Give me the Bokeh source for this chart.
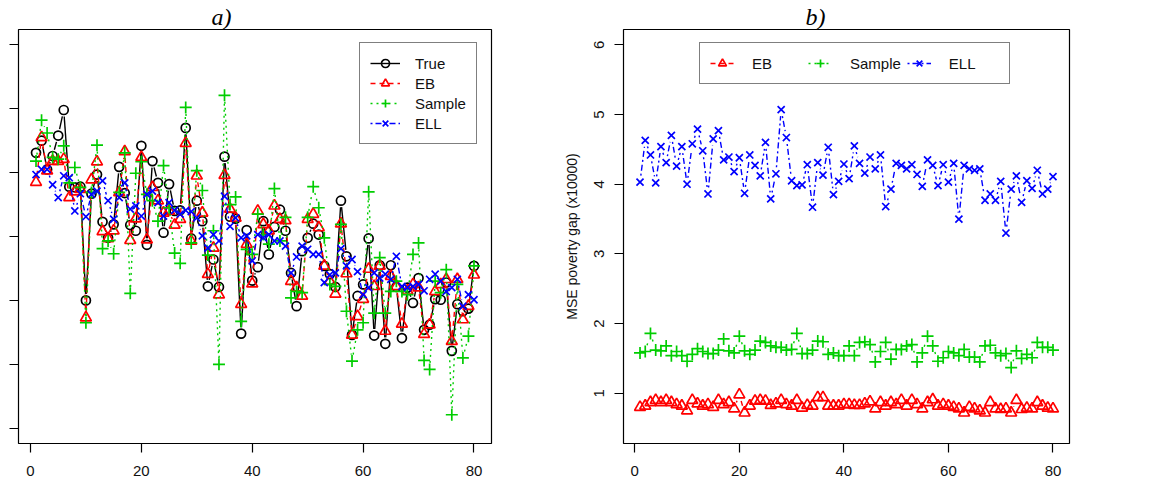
from bokeh.plotting import figure
from bokeh.models import FixedTicker, Legend, LegendItem, Range1d, Title
from bokeh.layouts import row
from bokeh.embed import file_html
from bokeh.resources import INLINE
import math

# ---------------- data ----------------
area = list(range(1, 81))

# panel a) estimates (axis units, labels not visible in the reference)
true_a = [4.31, 4.50, 4.05, 4.26, 4.58, 4.98, 3.78, 3.77, 3.78, 2.00,
          3.67, 3.97, 3.23, 2.98, 3.19, 4.09, 3.68, 3.18, 3.09, 4.42,
          2.87, 4.18, 3.84, 3.06, 3.82, 3.40, 3.41, 4.70, 2.97, 3.56,
          3.24, 2.22, 2.64, 2.21, 4.25, 3.31, 3.28, 1.48, 3.10, 2.31,
          2.52, 3.24, 2.72, 3.15, 3.42, 3.09, 2.43, 1.91, 2.77, 2.98,
          3.20, 3.03, 2.54, 2.41, 2.21, 3.56, 2.69, 1.46, 2.07, 2.25,
          2.97, 1.45, 2.55, 1.32, 2.55, 2.21, 1.41, 2.20, 1.96, 2.35,
          1.54, 1.62, 2.02, 2.01, 2.28, 1.21, 1.94, 1.83, 1.87, 2.54]
eb_a = [3.85, 4.55, 4.03, 4.18, 4.18, 4.21, 3.61, 3.70, 3.74, 1.73,
        3.89, 4.17, 3.08, 2.97, 3.09, 3.69, 4.33, 2.94, 3.28, 4.24,
        2.95, 3.77, 3.56, 3.37, 3.40, 3.18, 3.27, 4.46, 2.93, 3.95,
        3.37, 2.41, 2.82, 2.09, 3.96, 3.43, 3.29, 1.94, 2.88, 2.26,
        3.40, 3.19, 3.09, 3.48, 3.27, 3.25, 2.30, 2.20, 2.07, 3.27,
        3.35, 3.14, 2.54, 2.30, 2.10, 3.20, 2.42, 1.46, 1.75, 2.02,
        2.49, 2.22, 2.54, 1.52, 2.38, 2.22, 1.63, 2.15, 2.25, 2.20,
        1.47, 1.62, 2.14, 2.25, 2.33, 1.36, 2.33, 1.70, 1.91, 2.40]
sample_a = [4.18, 4.82, 4.62, 4.24, 4.21, 4.42, 3.84, 4.08, 3.77, 1.65,
            3.69, 4.43, 2.81, 2.93, 2.73, 3.69, 4.31, 2.11, 3.99, 4.17,
            3.66, 3.56, 3.24, 4.11, 3.45, 2.74, 2.58, 5.02, 2.90, 4.03,
            3.72, 2.71, 3.09, 1.00, 5.21, 3.50, 3.62, 1.67, 2.80, 2.72,
            3.35, 3.03, 2.88, 3.75, 2.93, 3.30, 2.04, 2.14, 2.12, 3.30,
            3.78, 3.45, 2.98, 2.25, 2.22, 3.19, 1.83, 1.05, 1.54, 1.65,
            3.70, 1.80, 2.67, 1.80, 2.14, 2.30, 2.14, 2.09, 2.72, 2.90,
            1.06, 0.92, 2.30, 2.12, 2.48, 0.21, 2.25, 1.10, 1.44, 2.54]
ell_a = [3.97, 4.05, 4.05, 3.81, 3.61, 3.95, 3.92, 3.40, 3.67, 3.31,
         3.66, 3.71, 3.87, 3.56, 3.27, 3.61, 3.84, 3.43, 3.48, 3.32,
         3.66, 3.71, 3.53, 3.32, 3.53, 3.41, 3.35, 3.41, 3.39, 3.29,
         3.01, 2.82, 3.03, 2.93, 3.63, 3.16, 3.29, 2.98, 3.01, 2.62,
         3.03, 2.98, 3.03, 2.93, 2.93, 2.85, 2.43, 2.68, 2.85, 2.80,
         2.72, 2.72, 2.28, 2.40, 2.43, 2.81, 2.54, 2.64, 2.45, 2.09,
         2.20, 2.43, 2.35, 2.41, 2.33, 2.69, 2.22, 2.20, 2.22, 2.25,
         2.15, 2.33, 2.41, 2.30, 2.14, 2.20, 2.33, 1.91, 2.09, 2.01]

# panel b) MSE poverty gap (x10000)
eb_b = [0.80, 0.82, 0.87, 0.90, 0.87, 0.90, 0.87, 0.84, 0.82, 0.75,
        0.90, 0.85, 0.82, 0.84, 0.80, 0.90, 0.84, 0.87, 0.78, 0.98,
        0.72, 0.82, 0.89, 0.90, 0.89, 0.83, 0.85, 0.90, 0.84, 0.82,
        0.90, 0.79, 0.83, 0.82, 0.94, 0.94, 0.82, 0.82, 0.82, 0.84,
        0.84, 0.83, 0.83, 0.85, 0.88, 0.78, 0.87, 0.82, 0.87, 0.84,
        0.90, 0.82, 0.90, 0.84, 0.78, 0.87, 0.91, 0.82, 0.84, 0.82,
        0.80, 0.78, 0.72, 0.80, 0.78, 0.75, 0.72, 0.87, 0.78, 0.77,
        0.78, 0.72, 0.90, 0.77, 0.79, 0.78, 0.87, 0.82, 0.79, 0.78]
sample_b = [1.58, 1.60, 1.86, 1.62, 1.61, 1.68, 1.54, 1.60, 1.54, 1.46,
            1.56, 1.64, 1.60, 1.57, 1.57, 1.62, 1.78, 1.61, 1.58, 1.82,
            1.61, 1.56, 1.62, 1.75, 1.73, 1.68, 1.66, 1.66, 1.62, 1.63,
            1.86, 1.57, 1.57, 1.62, 1.75, 1.74, 1.56, 1.58, 1.54, 1.54,
            1.68, 1.54, 1.73, 1.74, 1.70, 1.45, 1.60, 1.73, 1.49, 1.63,
            1.63, 1.68, 1.70, 1.45, 1.58, 1.82, 1.68, 1.46, 1.51, 1.60,
            1.58, 1.54, 1.63, 1.52, 1.52, 1.45, 1.68, 1.69, 1.58, 1.54,
            1.57, 1.37, 1.61, 1.50, 1.56, 1.51, 1.73, 1.66, 1.66, 1.62]
ell_b = [4.03, 4.63, 4.42, 4.02, 4.54, 4.31, 4.70, 4.26, 4.54, 4.00,
         4.58, 4.79, 4.48, 3.86, 4.65, 4.77, 4.35, 4.39, 4.18, 4.38,
         3.87, 4.42, 4.27, 4.12, 4.60, 3.79, 4.15, 5.07, 4.67, 4.05,
         3.98, 3.99, 4.28, 3.67, 4.31, 4.13, 4.53, 3.85, 4.04, 4.29,
         4.08, 4.55, 4.30, 4.16, 4.39, 4.22, 4.42, 3.68, 3.93, 4.30,
         4.27, 4.22, 4.28, 4.14, 3.97, 4.35, 4.27, 3.98, 4.28, 4.03,
         4.30, 3.50, 4.27, 4.22, 4.20, 4.22, 3.77, 3.86, 3.77, 4.04,
         3.30, 3.93, 4.12, 3.74, 4.05, 3.94, 4.20, 3.86, 3.93, 4.11]

x_ticks = [0, 20, 40, 60, 80]
y_ticks_a = [0, 1, 2, 3, 4, 5, 6]
y_ticks_b = [1, 2, 3, 4, 5, 6]

# ---------------- style ----------------
FONT = "Liberation Sans"
BLACK, RED, GREEN, BLUE = "#000000", "#FF0000", "#00CD00", "#0000FF"
H = 486
TOP, BOTTOM = 29, 43
XR = (-2.16, 83.16)
GAP = 6.5  # px gap around points, like R's type = "b"


def base_fig(width, left, right, yr):
    p = figure(width=width, height=H, x_range=Range1d(*XR),
               y_range=Range1d(*yr), output_backend="svg", toolbar_location=None,
               min_border_left=left, min_border_right=right,
               min_border_top=TOP, min_border_bottom=BOTTOM)
    p.xgrid.visible = False
    p.ygrid.visible = False
    p.background_fill_color = "white"
    p.border_fill_color = "white"
    p.outline_line_color = BLACK
    p.outline_line_width = 1.2
    p.outline_line_alpha = 1
    for ax in (p.xaxis[0], p.yaxis[0]):
        ax.axis_line_color = None
        ax.major_tick_in = 0
        ax.major_tick_out = 9
        ax.major_tick_line_color = BLACK
        ax.major_tick_line_width = 1.2
        ax.minor_tick_line_color = None
        ax.major_label_text_font = FONT
        ax.major_label_text_font_size = "15px"
        ax.major_label_text_color = "#111111"
    p.xaxis.ticker = FixedTicker(ticks=x_ticks)
    p.xaxis.major_label_standoff = 13
    return p


def add_title(p, text, offset):
    p.add_layout(Title(text=text, align="left", offset=offset, standoff=0,
                       text_font="Liberation Serif", text_font_style="italic",
                       text_font_size="24px", text_color=BLACK), "above")


def gapped(x, y, xpx, ypx):
    """segments between consecutive points, shortened near each point (R type='b')"""
    x0, y0, x1, y1 = [], [], [], []
    for i in range(len(x) - 1):
        dx = (x[i + 1] - x[i]) * xpx
        dy = (y[i + 1] - y[i]) * ypx
        d = math.hypot(dx, dy)
        if d <= 2 * GAP:
            continue
        f = GAP / d
        x0.append(x[i] + (x[i + 1] - x[i]) * f)
        y0.append(y[i] + (y[i + 1] - y[i]) * f)
        x1.append(x[i + 1] - (x[i + 1] - x[i]) * f)
        y1.append(y[i + 1] - (y[i + 1] - y[i]) * f)
    return x0, y0, x1, y1


def series(p, x, y, color, dash, marker, size, xpx, ypx):
    x0, y0, x1, y1 = gapped(x, y, xpx, ypx)
    ln = p.segment(x0, y0, x1, y1, line_color=color, line_width=1.4, line_dash=dash)
    sc = p.scatter(x, y, marker=marker, size=size, fill_color=None,
                   line_color=color, line_width=1.7)
    return [ln, sc]


# ---------------- panel a ----------------
YA = (-0.24, 6.24)
WA, LA, RA = 560, 18, 69
pa = base_fig(WA, LA, RA, YA)
pa.yaxis.ticker = FixedTicker(ticks=y_ticks_a)
pa.yaxis.major_label_overrides = {t: "" for t in y_ticks_a}
pa.yaxis.major_label_standoff = 0
xpx_a = (WA - LA - RA) / (XR[1] - XR[0])
ypx_a = (H - TOP - BOTTOM) / (YA[1] - YA[0])

r_true = series(pa, area, true_a, BLACK, "solid", "circle", 9, xpx_a, ypx_a)
r_eb = series(pa, area, eb_a, RED, "5 4", "triangle", 11, xpx_a, ypx_a)
r_sam = series(pa, area, sample_a, GREEN, "2 4", "cross", 12, xpx_a, ypx_a)
r_ell = series(pa, area, ell_a, BLUE, "2 3 6 3", "x", 10, xpx_a, ypx_a)

leg_a = Legend(items=[LegendItem(label="True", renderers=r_true),
                      LegendItem(label="EB", renderers=r_eb),
                      LegendItem(label="Sample", renderers=r_sam),
                      LegendItem(label="ELL", renderers=r_ell)],
               location=(341, 299), orientation="vertical",
               glyph_width=30, glyph_height=20, label_height=20,
               label_standoff=15, spacing=0, padding=10, margin=0,
               border_line_color=BLACK, border_line_width=1.2,
               background_fill_color="white", background_fill_alpha=1,
               label_text_font=FONT, label_text_font_size="15px",
               label_text_color="#111111")
pa.add_layout(leg_a)
add_title(pa, "a)", 193)

# ---------------- panel b ----------------
YB = (0.28, 6.22)
WB, LB, RB = 593, 63, 84
pb = base_fig(WB, LB, RB, YB)
pb.yaxis.ticker = FixedTicker(ticks=y_ticks_b)
pb.yaxis.major_label_orientation = "vertical"
pb.yaxis.major_label_standoff = 10
pb.yaxis.axis_label = "MSE poverty gap (x10000)"
pb.yaxis.axis_label_text_font = FONT
pb.yaxis.axis_label_text_font_style = "normal"
pb.yaxis.axis_label_text_font_size = "14px"
pb.yaxis.axis_label_text_color = "#111111"
pb.yaxis.axis_label_standoff = 12
xpx_b = (WB - LB - RB) / (XR[1] - XR[0])
ypx_b = (H - TOP - BOTTOM) / (YB[1] - YB[0])

rb_eb = series(pb, area, eb_b, RED, "5 4", "triangle", 11, xpx_b, ypx_b)
rb_sam = series(pb, area, sample_b, GREEN, "2 4", "cross", 12, xpx_b, ypx_b)
rb_ell = series(pb, area, ell_b, BLUE, "2 3 6 3", "x", 10, xpx_b, ypx_b)

leg_b = Legend(items=[LegendItem(label="EB", renderers=rb_eb),
                      LegendItem(label="Sample", renderers=rb_sam),
                      LegendItem(label="ELL", renderers=rb_ell)],
               location=(76, 359), orientation="horizontal",
               glyph_width=24, glyph_height=20, label_height=20,
               label_width=50, label_standoff=18, spacing=6, padding=10,
               margin=0, border_line_color=BLACK, border_line_width=1.2,
               background_fill_color="white", background_fill_alpha=1,
               label_text_font=FONT, label_text_font_size="15px",
               label_text_color="#111111")
pb.add_layout(leg_b)
add_title(pb, "b)", 182)

layout = row(pa, pb, spacing=0)
open("out.html", "w").write(file_html(layout, INLINE))
